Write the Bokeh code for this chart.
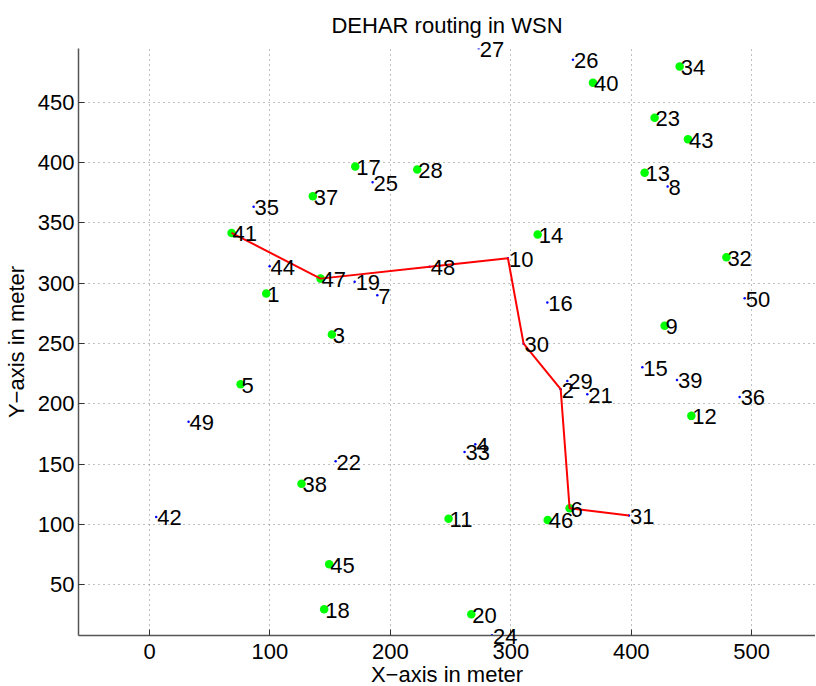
from bokeh.plotting import figure
from bokeh.models import ColumnDataSource, Range1d, FixedTicker
from bokeh.core.properties import value
from bokeh.embed import file_html
from bokeh.resources import INLINE

# ---------------- data ----------------
node_id = list(range(1, 51))
node_x = [96.9, 341.4, 151.4, 270.5, 75.6, 348.8, 189.1, 430.2, 427.7, 297.6,
          248.3, 449.9, 411.1, 322.3, 409.2, 330.3, 170.8, 145.0, 170.3, 267.2,
          363.5, 154.5, 419.4, 284.3, 185.2, 351.6, 273.3, 222.3, 346.9, 310.6,
          398.1, 479.0, 261.6, 440.2, 86.4, 490.0, 135.6, 126.2, 438.0, 368.2,
          68.1, 5.5, 447.1, 99.7, 149.2, 330.6, 142.0, 232.6, 32.4, 494.2]
node_y = [291.4, 212.1, 257.4, 166.5, 216.3, 113.4, 290.0, 380.1, 264.8, 320.7,
          104.8, 190.0, 391.5, 340.3, 230.3, 283.9, 396.7, 29.7, 301.3, 25.5,
          208.0, 152.4, 437.1, 8.1, 383.7, 485.2, 494.8, 394.2, 219.0, 249.9,
          107.3, 321.6, 160.1, 479.6, 363.3, 205.7, 372.1, 133.8, 219.8, 466.3,
          341.7, 106.2, 419.4, 314.1, 67.0, 103.7, 303.8, 313.7, 185.2, 287.6]
green_ids = [1, 3, 5, 6, 9, 11, 12, 13, 14, 17, 18, 20, 23, 28, 32, 34, 37, 38,
             40, 41, 43, 45, 46, 47]
route_ids = [41, 47, 48, 10, 30, 2, 6, 31]

x_ticks = [0, 100, 200, 300, 400, 500]
y_ticks = [50, 100, 150, 200, 250, 300, 350, 400, 450]

title_text = "DEHAR routing in WSN"
x_label = "X\u2212axis in meter"
y_label = "Y\u2212axis in meter"

# ---------------- sources ----------------
all_src = ColumnDataSource(dict(x=node_x, y=node_y, t=[str(i) for i in node_id]))
gx = [node_x[i - 1] for i in green_ids]
gy = [node_y[i - 1] for i in green_ids]
green_src = ColumnDataSource(dict(x=gx, y=gy))
rx = [node_x[i - 1] for i in route_ids]
ry = [node_y[i - 1] for i in route_ids]
route_src = ColumnDataSource(dict(x=rx, y=ry))

FONT = "Liberation Sans"

p = figure(width=808, height=684, output_backend="svg", toolbar_location=None,
           x_range=Range1d(-59, 553), y_range=Range1d(7.9, 494.6),
           min_border_left=71, min_border_right=0, min_border_top=47,
           min_border_bottom=50, title=title_text)
p.frame_width = 737
p.frame_height = 587

p.title.align = "center"
p.title.text_font = FONT
p.title.text_font_size = "22px"
p.title.text_font_style = "normal"
p.title.text_color = "black"
p.title.standoff = 21

p.outline_line_color = None
p.background_fill_color = "white"
p.border_fill_color = "white"

for ax in (p.xaxis[0], p.yaxis[0]):
    ax.axis_line_color = "#555555"
    ax.axis_line_width = 1.5
    ax.major_tick_line_color = "#333333"
    ax.major_tick_in = 6
    ax.major_tick_out = 0
    ax.minor_tick_line_color = None
    ax.major_label_text_font = FONT
    ax.major_label_text_font_size = "22px"
    ax.major_label_text_color = "black"
    ax.axis_label_text_font = FONT
    ax.axis_label_text_font_size = "22px"
    ax.axis_label_text_font_style = "normal"
    ax.axis_label_text_color = "black"

p.xaxis[0].ticker = FixedTicker(ticks=x_ticks)
p.yaxis[0].ticker = FixedTicker(ticks=y_ticks)
p.xaxis[0].axis_label = x_label
p.yaxis[0].axis_label = y_label
p.xaxis[0].major_label_standoff = 8
p.xaxis[0].axis_label_standoff = 0
p.yaxis[0].major_label_standoff = 4
p.yaxis[0].axis_label_standoff = 6

for g in (p.xgrid[0], p.ygrid[0]):
    g.grid_line_color = "#808080"
    g.grid_line_dash = "1 4"
    g.grid_line_width = 1

# blue node dots
p.scatter("x", "y", source=all_src, size=2.5, color="#0000ff", line_color=None)
# green alive nodes
p.scatter("x", "y", source=green_src, size=8.5, color="#00ff00", line_color=None)
# route
p.line("x", "y", source=route_src, line_color="#ff0000", line_width=2)
# node labels
p.text("x", "y", text="t", source=all_src, text_font=value(FONT),
       text_font_size=value("22px"), text_color="black",
       text_align="left", text_baseline="middle", x_offset=1, y_offset=1,
       level="overlay")

open("out.html", "w").write(file_html(p, INLINE))
